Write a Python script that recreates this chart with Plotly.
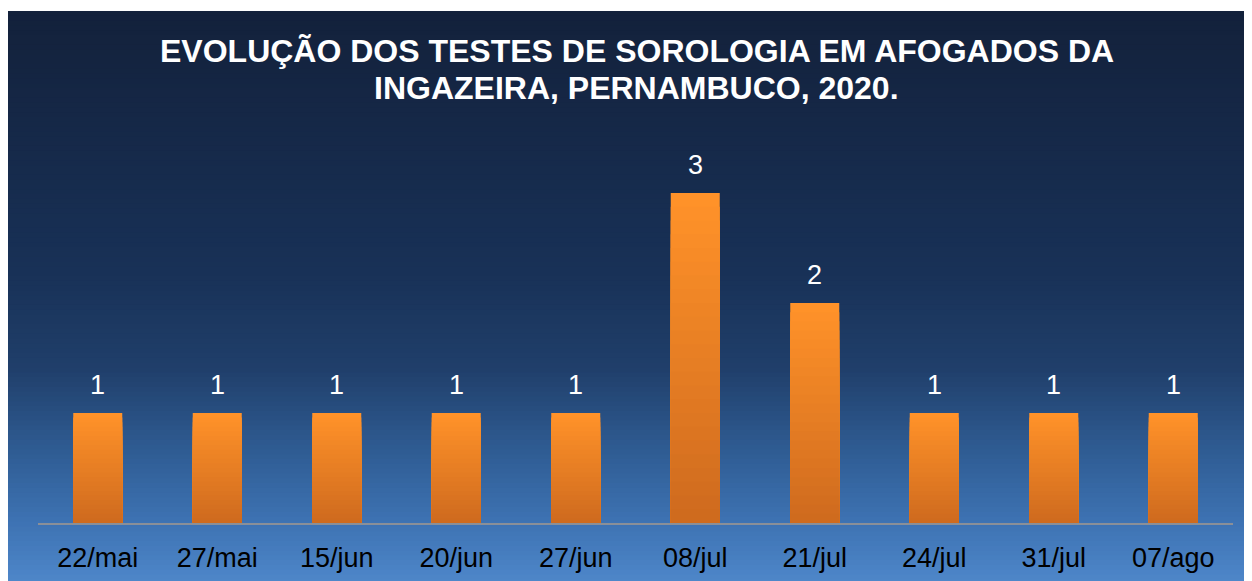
import plotly.graph_objects as go

categories = ["22/mai", "27/mai", "15/jun", "20/jun", "27/jun", "08/jul", "21/jul", "24/jul", "31/jul", "07/ago"]
values = [1, 1, 1, 1, 1, 3, 2, 1, 1, 1]
title_lines = ["EVOLUÇÃO DOS TESTES DE SOROLOGIA EM AFOGADOS DA",
               "INGAZEIRA, PERNAMBUCO, 2020."]

W, H = 1252, 581
FONT = "Arial, Liberation Sans, sans-serif"


def lerp(c1, c2, t):
    return tuple(round(a + (b - a) * t) for a, b in zip(c1, c2))


def hexrgb(h):
    h = h.lstrip("#")
    return tuple(int(h[i:i + 2], 16) for i in (0, 2, 4))


# background gradient stops (fraction from top of figure, colour)
bg_stops = [(0.0, "#13213B"), (0.45, "#183157"), (0.62, "#203F6B"),
            (0.75, "#2E5A90"), (0.88, "#3D72B2"), (1.0, "#5089CC")]


def bg_color(t):
    for (t0, c0), (t1, c1) in zip(bg_stops[:-1], bg_stops[1:]):
        if t0 <= t <= t1:
            return "rgb(%d,%d,%d)" % lerp(hexrgb(c0), hexrgb(c1), (t - t0) / (t1 - t0))
    return bg_stops[-1][1]


left_px, top_px = 0, 3
shapes = []
n_bg = 120
for i in range(n_bg):
    y0 = top_px + (H - top_px) * i / n_bg
    shapes.append(dict(type="rect", xref="paper", yref="paper", layer="below",
                       x0=left_px / W, x1=1.0, y0=0, y1=1 - y0 / H,
                       line=dict(width=0), fillcolor=bg_color((i + 0.5) / n_bg)))

fig = go.Figure()

# bar gradient: overlaid bars of decreasing height, getting darker toward the base
top_c, bot_c = hexrgb("#FF9229"), hexrgb("#CD691E")
n_seg = 24
for k in range(n_seg):
    frac = (n_seg - k) / n_seg
    col = "rgb(%d,%d,%d)" % lerp(bot_c, top_c, frac)
    fig.add_trace(go.Bar(
        x=categories, y=[v * frac for v in values],
        marker=dict(color=col, line=dict(width=0)),
        showlegend=False, hoverinfo="skip" if k else None,
    ))

annotations = []
for c, v in zip(categories, values):
    annotations.append(dict(x=c, y=v, xref="x", yref="y", text=str(v), showarrow=False,
                            yanchor="bottom", yshift=11,
                            font=dict(color="white", size=27, family=FONT)))

title_y = [43, 80]
for line, yy in zip(title_lines, title_y):
    annotations.append(dict(text="<b>" + line + "</b>", xref="paper", yref="paper",
                            x=629 / W, y=1 - yy / H, xanchor="center", yanchor="middle",
                            showarrow=False,
                            font=dict(color="white", size=32, family=FONT)))

fig.update_layout(
    width=W, height=H,
    margin=dict(l=0, r=0, t=0, b=0),
    paper_bgcolor="white", plot_bgcolor="rgba(0,0,0,0)",
    barmode="overlay", bargap=0.59,
    shapes=shapes,
    showlegend=False,
    annotations=annotations,
    xaxis=dict(domain=[30 / W, 1225 / W], showline=True, linecolor="#8A8F98", linewidth=2,
               showgrid=False, zeroline=False, ticks="outside", ticklen=10,
               tickcolor="rgba(0,0,0,0)",
               tickfont=dict(color="black", size=27, family=FONT)),
    yaxis=dict(domain=[1 - 515 / H, 1 - 130 / H], range=[0, 3.5], visible=False,
               showgrid=False, zeroline=False),
)

fig.write_html("out.html")
